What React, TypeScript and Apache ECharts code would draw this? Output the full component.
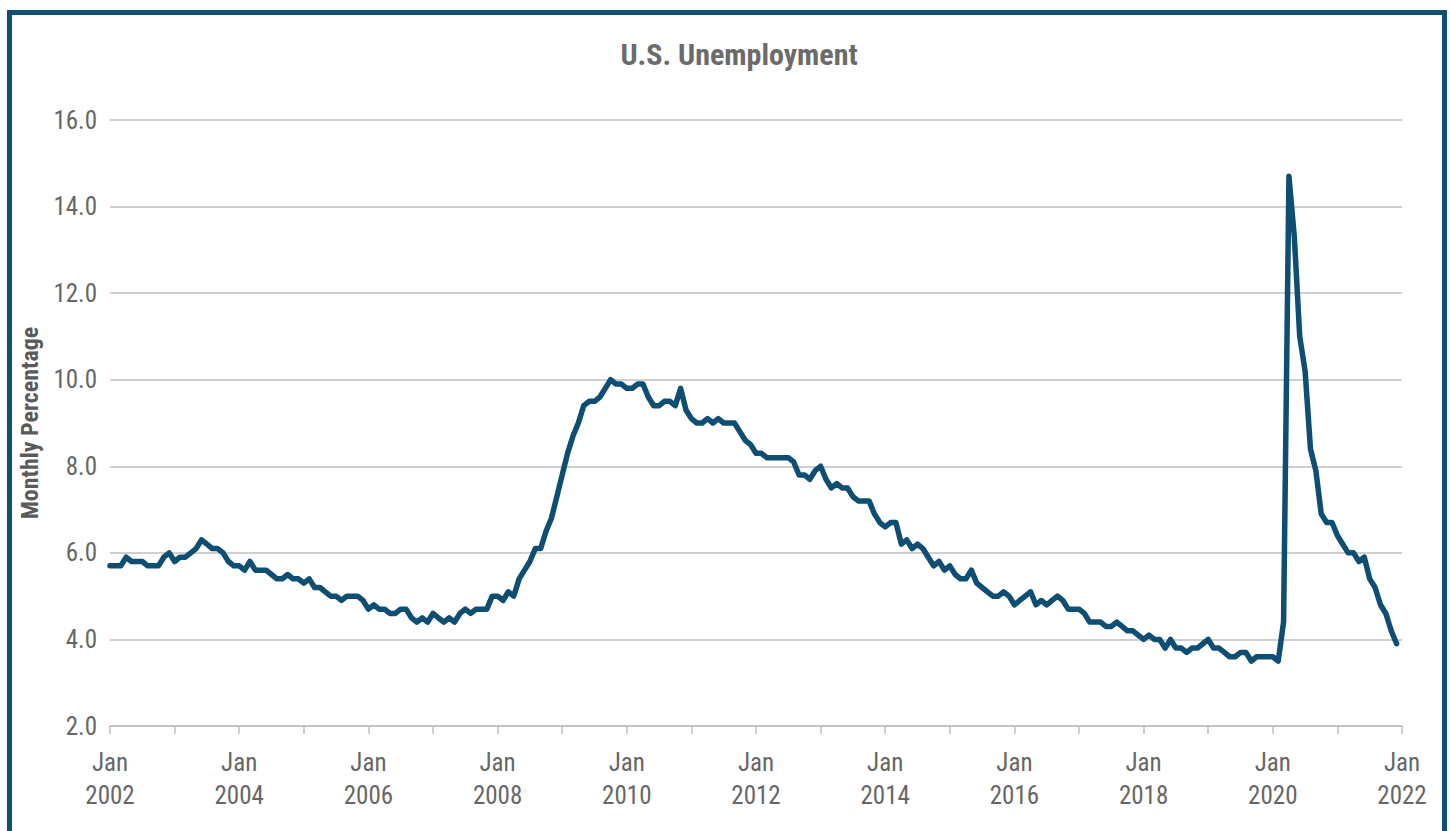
import React, { useEffect, useRef } from "react";
import * as echarts from "echarts";

const chartTitle = "U.S. Unemployment";
const yAxisTitle = "Monthly Percentage";
const monthNames = ["Jan", "Feb", "Mar", "Apr", "May", "Jun", "Jul", "Aug", "Sep", "Oct", "Nov", "Dec"];
const years = [2002, 2003, 2004, 2005, 2006, 2007, 2008, 2009, 2010, 2011, 2012, 2013, 2014, 2015, 2016, 2017, 2018, 2019, 2020, 2021];
const axisEnd = "Jan 2022";

const rate2002 = [5.7, 5.7, 5.7, 5.9, 5.8, 5.8, 5.8, 5.7, 5.7, 5.7, 5.9, 6.0];
const rate2003 = [5.8, 5.9, 5.9, 6.0, 6.1, 6.3, 6.2, 6.1, 6.1, 6.0, 5.8, 5.7];
const rate2004 = [5.7, 5.6, 5.8, 5.6, 5.6, 5.6, 5.5, 5.4, 5.4, 5.5, 5.4, 5.4];
const rate2005 = [5.3, 5.4, 5.2, 5.2, 5.1, 5.0, 5.0, 4.9, 5.0, 5.0, 5.0, 4.9];
const rate2006 = [4.7, 4.8, 4.7, 4.7, 4.6, 4.6, 4.7, 4.7, 4.5, 4.4, 4.5, 4.4];
const rate2007 = [4.6, 4.5, 4.4, 4.5, 4.4, 4.6, 4.7, 4.6, 4.7, 4.7, 4.7, 5.0];
const rate2008 = [5.0, 4.9, 5.1, 5.0, 5.4, 5.6, 5.8, 6.1, 6.1, 6.5, 6.8, 7.3];
const rate2009 = [7.8, 8.3, 8.7, 9.0, 9.4, 9.5, 9.5, 9.6, 9.8, 10.0, 9.9, 9.9];
const rate2010 = [9.8, 9.8, 9.9, 9.9, 9.6, 9.4, 9.4, 9.5, 9.5, 9.4, 9.8, 9.3];
const rate2011 = [9.1, 9.0, 9.0, 9.1, 9.0, 9.1, 9.0, 9.0, 9.0, 8.8, 8.6, 8.5];
const rate2012 = [8.3, 8.3, 8.2, 8.2, 8.2, 8.2, 8.2, 8.1, 7.8, 7.8, 7.7, 7.9];
const rate2013 = [8.0, 7.7, 7.5, 7.6, 7.5, 7.5, 7.3, 7.2, 7.2, 7.2, 6.9, 6.7];
const rate2014 = [6.6, 6.7, 6.7, 6.2, 6.3, 6.1, 6.2, 6.1, 5.9, 5.7, 5.8, 5.6];
const rate2015 = [5.7, 5.5, 5.4, 5.4, 5.6, 5.3, 5.2, 5.1, 5.0, 5.0, 5.1, 5.0];
const rate2016 = [4.8, 4.9, 5.0, 5.1, 4.8, 4.9, 4.8, 4.9, 5.0, 4.9, 4.7, 4.7];
const rate2017 = [4.7, 4.6, 4.4, 4.4, 4.4, 4.3, 4.3, 4.4, 4.3, 4.2, 4.2, 4.1];
const rate2018 = [4.0, 4.1, 4.0, 4.0, 3.8, 4.0, 3.8, 3.8, 3.7, 3.8, 3.8, 3.9];
const rate2019 = [4.0, 3.8, 3.8, 3.7, 3.6, 3.6, 3.7, 3.7, 3.5, 3.6, 3.6, 3.6];
const rate2020 = [3.6, 3.5, 4.4, 14.7, 13.3, 11.0, 10.2, 8.4, 7.9, 6.9, 6.7, 6.7];
const rate2021 = [6.4, 6.2, 6.0, 6.0, 5.8, 5.9, 5.4, 5.2, 4.8, 4.6, 4.2, 3.9];

const yTicks = [2, 4, 6, 8, 10, 12, 14, 16];

const ratesByYear = [
  rate2002, rate2003, rate2004, rate2005, rate2006, rate2007, rate2008, rate2009, rate2010, rate2011,
  rate2012, rate2013, rate2014, rate2015, rate2016, rate2017, rate2018, rate2019, rate2020, rate2021,
];

const FONT = "'Roboto Condensed', 'Liberation Sans Narrow', 'Arial Narrow', Roboto, sans-serif";
const LINE_COLOR = "#0d4e72";
const TEXT_COLOR = "#666666";
const GRID_COLOR = "#bfbfbf";

export default function App() {
  const ref = useRef<HTMLDivElement>(null);

  useEffect(() => {
    if (!ref.current) return;
    const chart = echarts.init(ref.current, null, { renderer: "svg" });

    const categories: string[] = [];
    years.forEach((y) => monthNames.forEach((m) => categories.push(`${m} ${y}`)));
    categories.push(axisEnd);
    const values: number[] = [];
    ratesByYear.forEach((arr) => arr.forEach((v) => values.push(v)));

    chart.setOption({
      animation: false,
      backgroundColor: "#ffffff",
      grid: { left: 110, right: 48, top: 120, bottom: 105, containLabel: false },
      xAxis: {
        type: "category",
        data: categories,
        boundaryGap: false,
        axisLine: { show: true, lineStyle: { color: GRID_COLOR, width: 1.5 } },
        axisTick: {
          show: true,
          length: 8,
          interval: (index: number) => index % 12 === 0,
          lineStyle: { color: GRID_COLOR, width: 1.5 },
        },
        axisLabel: {
          interval: (index: number) => index % 24 === 0,
          formatter: (v: string) => v.replace(" ", "\n"),
          color: TEXT_COLOR,
          fontFamily: FONT,
          fontSize: 25,
          lineHeight: 33,
          margin: 20,
        },
        splitLine: { show: false },
      },
      yAxis: {
        type: "value",
        min: yTicks[0],
        max: yTicks[yTicks.length - 1],
        interval: 2,
        name: yAxisTitle,
        nameLocation: "middle",
        nameGap: 64,
        nameRotate: 90,
        nameTextStyle: {
          color: "#5a5a5a",
          fontFamily: FONT,
          fontWeight: "bold",
          fontSize: 24,
        },
        axisLine: { show: false },
        axisTick: { show: false },
        axisLabel: {
          formatter: (v: number) => v.toFixed(1),
          color: TEXT_COLOR,
          fontFamily: FONT,
          fontSize: 25,
          margin: 13,
        },
        splitLine: { show: true, lineStyle: { color: GRID_COLOR, width: 1.5 } },
      },
      series: [
        {
          type: "line",
          data: values,
          showSymbol: false,
          symbol: "none",
          lineStyle: { color: LINE_COLOR, width: 5.5, cap: "round", join: "round" },
        },
      ],
      graphic: [
        {
          type: "rect",
          shape: { x: 9.5, y: 12.5, width: 1435, height: 900 },
          style: { fill: "none", stroke: "#0f4f73", lineWidth: 5 },
          silent: true,
        },
        {
          type: "text",
          x: 739,
          y: 54,
          style: {
            text: chartTitle,
            fill: "#6b6b6b",
            font: `bold 30px ${FONT}`,
            textAlign: "center",
            textVerticalAlign: "middle",
          },
        },
      ],
    });

    return () => chart.dispose();
  }, []);

  return (
    <div
      ref={ref}
      style={{ position: "fixed", left: 0, top: 0, width: 1450, height: 831, background: "#fff" }}
    />
  );
}
